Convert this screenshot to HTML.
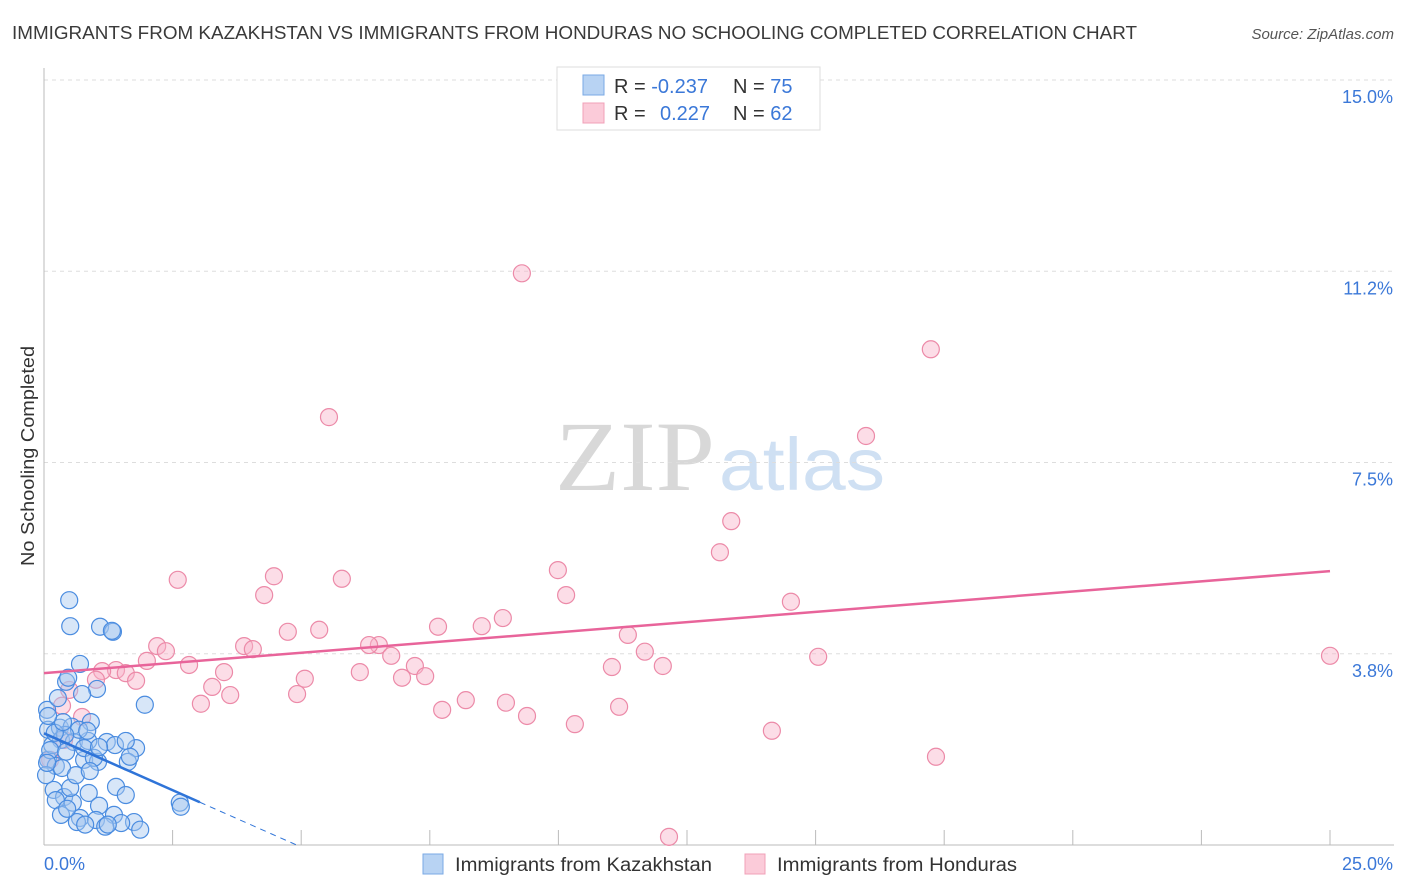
<!DOCTYPE html>
<html><head><meta charset="utf-8"><style>
body{margin:0;background:#fff;font-family:"Liberation Sans",sans-serif;}
svg{display:block}
</style></head><body>
<svg id="chart" width="1406" height="892" xmlns="http://www.w3.org/2000/svg" font-family="Liberation Sans, sans-serif">
<text x="12" y="39" font-size="18" fill="#3a3a3a" textLength="1125" lengthAdjust="spacingAndGlyphs">IMMIGRANTS FROM KAZAKHSTAN VS IMMIGRANTS FROM HONDURAS NO SCHOOLING COMPLETED CORRELATION CHART</text>
<text x="1394" y="39" font-size="15" fill="#555" font-style="italic" text-anchor="end">Source: ZipAtlas.com</text>
<text transform="translate(34,456) rotate(-90)" font-size="18" fill="#333" text-anchor="middle" textLength="220" lengthAdjust="spacingAndGlyphs">No Schooling Completed</text>
<g>
<text x="635" y="490" font-size="100" fill="#d8d8d8" font-family="Liberation Serif, serif" text-anchor="middle" textLength="160" lengthAdjust="spacingAndGlyphs">ZIP</text>
<text x="802" y="490" font-size="74" fill="#cfe0f3" text-anchor="middle" textLength="166" lengthAdjust="spacingAndGlyphs">atlas</text>
</g>
<g id="grid"></g>
<g id="axes"></g>
<g id="pts"></g>
<g id="trends"></g>
<g>
<rect x="557" y="67" width="263" height="63" fill="#fff" stroke="#ddd"/>
<rect x="583" y="75" width="21" height="20" fill="#b8d3f3" stroke="#7aa9e4"/>
<rect x="583" y="103" width="21" height="20" fill="#fbcbd9" stroke="#f0a0b8"/>
<text x="614" y="93" font-size="20" fill="#333">R = <tspan fill="#3b78d8">-0.237</tspan><tspan x="733">N = </tspan><tspan fill="#3b78d8">75</tspan></text>
<text x="614" y="120" font-size="20" fill="#333">R = <tspan x="660" fill="#3b78d8">0.227</tspan><tspan x="733">N = </tspan><tspan fill="#3b78d8">62</tspan></text>
</g>
<g>
<rect x="423" y="854" width="20" height="20" fill="#b8d3f3" stroke="#7aa9e4"/>
<text x="455" y="871" font-size="19" fill="#333" textLength="257" lengthAdjust="spacingAndGlyphs">Immigrants from Kazakhstan</text>
<rect x="745" y="854" width="20" height="20" fill="#fbcbd9" stroke="#f0a0b8"/>
<text x="777" y="871" font-size="19" fill="#333" textLength="240" lengthAdjust="spacingAndGlyphs">Immigrants from Honduras</text>
</g>
</svg>
<script>
const yTicks=[3.75,7.5,11.25,15];
const yTickLabels=["3.8%","7.5%","11.2%","15.0%"];
const xTicks=[0,2.5,5,7.5,10,12.5,15,17.5,20,22.5,25];
const xEndLabels=["0.0%","25.0%"];
const kazX=[0.49,0.51,1.09,1.34,0.70,0.43,1.03,0.74,1.96,0.06,0.08,0.31,0.54,0.91,0.33,0.58,0.86,1.22,1.79,0.08,0.23,0.35,0.78,1.05,1.63,0.04,0.19,0.39,0.87,1.40,1.59,0.23,0.56,1.07,0.70,1.01,1.36,1.75,1.50,1.19,1.87,2.64,2.66,0.33,0.64,0.80,0.45,0.16,0.12,0.43,0.78,0.27,0.97,1.38,0.68,0.41,1.24,0.51,0.06,0.21,0.37,0.62,0.89,1.59,1.07,0.84,0.08,1.67,0.47,1.32];
const kazY=[4.80,4.29,4.28,4.18,3.55,3.20,3.06,2.96,2.75,2.65,2.26,2.30,2.32,2.41,2.06,2.02,2.04,2.02,1.90,1.67,1.55,1.51,1.67,1.63,1.63,1.37,1.08,0.94,1.02,1.14,0.98,0.88,0.83,0.77,0.53,0.49,0.59,0.45,0.43,0.36,0.30,0.83,0.75,0.59,0.45,0.40,0.71,1.96,1.86,1.83,1.90,2.88,1.71,1.96,2.26,2.16,0.40,1.12,1.61,2.20,2.41,1.37,1.45,2.04,1.92,2.24,2.53,1.73,3.28,4.20];
const honX=[9.29,17.24,5.54,15.98,13.36,13.14,2.60,4.47,5.79,9.99,4.28,10.15,14.52,8.92,8.51,7.66,4.74,5.35,11.35,2.20,3.89,4.06,2.37,2.00,6.51,6.32,6.75,11.68,15.05,25.0,2.82,1.40,1.13,1.59,3.50,7.21,6.14,11.04,12.03,7.41,6.96,1.79,5.07,1.01,3.27,3.62,4.92,8.20,8.98,3.05,7.74,11.18,9.39,10.32,14.15,17.34,12.15,0.49,0.74,0.35,0.39,0.12];
const honY=[11.21,9.72,8.39,8.02,6.35,5.74,5.20,5.27,5.22,5.39,4.90,4.90,4.77,4.45,4.29,4.28,4.18,4.22,4.12,3.90,3.90,3.84,3.80,3.61,3.92,3.92,3.71,3.79,3.69,3.71,3.53,3.43,3.41,3.37,3.39,3.51,3.39,3.49,3.51,3.31,3.28,3.22,3.26,3.24,3.10,2.94,2.96,2.84,2.79,2.77,2.65,2.71,2.53,2.37,2.24,1.73,0.16,3.04,2.51,2.73,2.06,1.67];
// trend lines as shown: [intercept, slope]
const kazTrend=[2.19,-0.446];
const honTrend=[3.37,0.08];
const kazSolidEnd=[3.03];
const NS="http://www.w3.org/2000/svg";
const L=44,R=1330,B=845,PX=(R-L)/25,PY=(845-80)/15;
const xs=v=>L+v*PX, ys=v=>B-v*PY;
function mk(tag,attrs,parent){const e=document.createElementNS(NS,tag);for(const k in attrs)e.setAttribute(k,attrs[k]);document.getElementById(parent).appendChild(e);return e;}
yTicks.forEach((t,i)=>{
 const g=mk('line',{x1:L,x2:1392,y1:ys(t),y2:ys(t),stroke:'#ddd','stroke-dasharray':'4,4'},'grid');
 
 
 const tx=mk('text',{x:1393,y:ys(t)+23,'font-size':18,fill:'#3b78d8','text-anchor':'end'},'axes');
 tx.textContent=yTickLabels[i];
 
 
});
const al=mk('line',{x1:L,x2:L,y1:68,y2:B,stroke:'#bbb'},'axes');


const bl=mk('line',{x1:L,x2:1394,y1:B,y2:B,stroke:'#bbb'},'axes');


xTicks.forEach(t=>{
 const tk=mk('line',{x1:xs(t),x2:xs(t),y1:B-15,y2:B,stroke:'#bbb'},'axes');
 
 
});
const xl0=mk('text',{x:44,y:870,'font-size':18,fill:'#3b78d8'},'axes');xl0.textContent=xEndLabels[0];


const xl1=mk('text',{x:1393,y:870,'font-size':18,fill:'#3b78d8','text-anchor':'end'},'axes');xl1.textContent=xEndLabels[1];


function pts(X,Y,fill,stroke,name){X.forEach((x,i)=>{
 const c=mk('circle',{cx:xs(x),cy:ys(Y[i]),r:8.5,fill:fill,'fill-opacity':0.45,stroke:stroke,'stroke-width':1.2},'pts');
 
 
});}
pts(honX,honY,'#f8b4c9','#ec8aa8','honduras-point');
pts(kazX,kazY,'#a6c8f0','#4a8ce0','kazakhstan-point');
const [ha,hb]=honTrend;
const hl=mk('line',{x1:xs(0),y1:ys(ha),x2:xs(25),y2:ys(ha+hb*25),stroke:'#e8649a','stroke-width':2.5},'trends');


const [ka,kb]=kazTrend;
const kmax=kazSolidEnd[0];
const kl=mk('line',{x1:xs(0),y1:ys(ka),x2:xs(kmax),y2:ys(ka+kb*kmax),stroke:'#2f74d8','stroke-width':2.5},'trends');


const kend=kb<0?Math.min(-ka/kb,25):25;
const kd=mk('line',{x1:xs(kmax),y1:ys(ka+kb*kmax),x2:xs(kend),y2:ys(ka+kb*kend),stroke:'#2f74d8','stroke-width':1,'stroke-dasharray':'6,5'},'trends');


</script>
</body></html>
